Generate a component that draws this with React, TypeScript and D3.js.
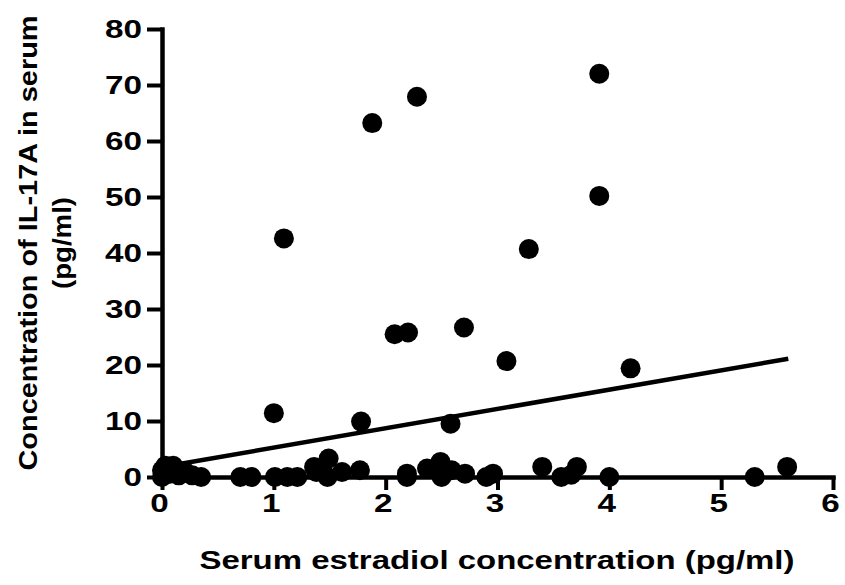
import React, { useEffect, useRef } from 'react'
import * as d3 from 'd3'

// serum estradiol (pg/ml) vs IL-17A (pg/ml)
const estradiol = [
  1.09, 1.0, 1.88, 2.28, 2.08, 2.2, 1.78, 2.7, 2.58, 3.08, 3.28, 3.91, 3.91, 4.19,
  0, 0, 0.03, 0.07, 0.1, 0.15, 0.2, 0.27, 0.35, 0.7, 0.8, 1.01, 1.12, 1.21,
  1.36, 1.38, 1.48, 1.49, 1.61, 1.77, 2.19, 2.19, 2.37, 2.49, 2.5, 2.59, 2.71,
  2.9, 2.96, 3.4, 3.57, 3.66, 3.71, 4.0, 5.3, 5.59
]
const il17a = [
  42.6, 11.4, 63.2, 67.9, 25.5, 25.8, 9.9, 26.7, 9.5, 20.7, 40.7, 72, 50.2, 19.4,
  0, 1.2, 2.0, 0.6, 2.0, 0.3, 1.0, 0.3, 0, 0, 0, 0, 0, 0,
  1.8, 0.9, 0, 3.3, 0.9, 1.2, 0.6, 0, 1.5, 2.7, 0, 1.2, 0.6,
  0, 0.6, 1.8, 0, 0.4, 1.8, 0, 0, 1.8
]

const xTicks = [0, 1, 2, 3, 4, 5, 6]
const yTicks = [0, 10, 20, 30, 40, 50, 60, 70, 80]

// linear fit drawn in the figure
const fitIntercept = 1.8
const fitSlope = 3.45
const fitFrom = 0
const fitTo = 5.6

const font = '"Liberation Sans", Arial, sans-serif'

export default function App() {
  const ref = useRef<SVGSVGElement>(null)

  useEffect(() => {
    const svg = d3.select(ref.current)
    svg.selectAll('*').remove()

    const x = d3.scaleLinear().domain([0, 6]).range([162, 833])
    const y = d3.scaleLinear().domain([0, 80]).range([477, 29])

    // fit line
    const fit = [fitFrom, fitTo].map(v => [v, fitIntercept + fitSlope * v])
    svg.append('path')
      .attr('d', d3.line().x(d => x(d[0])).y(d => y(d[1]))(fit as [number, number][]))
      .attr('stroke', '#000')
      .attr('stroke-width', 4.5)
      .attr('fill', 'none')

    // axes
    const xAxis = svg.append('g')
      .attr('transform', `translate(0,${y(0)})`)
      .call(d3.axisBottom(x).tickValues(xTicks).tickFormat(d3.format('d')).tickSize(13).tickSizeOuter(0).tickPadding(4))
    const yAxis = svg.append('g')
      .attr('transform', `translate(${x(0)},0)`)
      .call(d3.axisLeft(y).tickValues(yTicks).tickFormat(d3.format('d')).tickSize(15).tickSizeOuter(0).tickPadding(5))

    for (const ax of [xAxis, yAxis]) {
      ax.attr('font-size', null).attr('font-family', null)
      ax.select('.domain').attr('stroke', '#000').attr('stroke-width', 4.5).attr('stroke-linecap', 'square')
      ax.selectAll('.tick line').attr('stroke', '#000').attr('stroke-width', 4)
      ax.selectAll('.tick text')
        .attr('fill', '#000')
        .attr('textLength', (d: any) => String(d).length * 18.5)
        .attr('lengthAdjust', 'spacingAndGlyphs')
        .style('font-family', font)
        .style('font-weight', 'bold')
        .style('font-size', '26px')
    }
    xAxis.selectAll('.tick text').attr('dx', -3)

    // dots
    svg.append('g')
      .selectAll('circle')
      .data(estradiol.map((v, i) => [v, il17a[i]]))
      .enter()
      .append('circle')
      .attr('cx', d => x(d[0]))
      .attr('cy', d => y(d[1]))
      .attr('r', 10)
      .attr('fill', '#000')

    // titles
    svg.append('text')
      .attr('x', 497)
      .attr('y', 569)
      .attr('text-anchor', 'middle')
      .attr('textLength', 595)
      .attr('lengthAdjust', 'spacingAndGlyphs')
      .style('font-family', font)
      .style('font-weight', 'bold')
      .style('font-size', '26px')
      .text('Serum estradiol concentration (pg/ml)')

    const yt = svg.append('g').attr('transform', 'translate(0,243) rotate(-90)')
    yt.append('text')
      .attr('x', 0)
      .attr('y', 37)
      .attr('text-anchor', 'middle')
      .attr('textLength', 455)
      .attr('lengthAdjust', 'spacingAndGlyphs')
      .style('font-family', font)
      .style('font-weight', 'bold')
      .style('font-size', '26px')
      .text('Concentration of IL-17A in serum')
    yt.append('text')
      .attr('x', 0)
      .attr('y', 71)
      .attr('text-anchor', 'middle')
      .attr('textLength', 92)
      .attr('lengthAdjust', 'spacingAndGlyphs')
      .style('font-family', font)
      .style('font-weight', 'bold')
      .style('font-size', '26px')
      .text('(pg/ml)')
  }, [])

  return (
    <svg ref={ref} width={845} height={585} style={{ position: 'absolute', left: 0, top: 0, background: '#fff' }} />
  )
}
